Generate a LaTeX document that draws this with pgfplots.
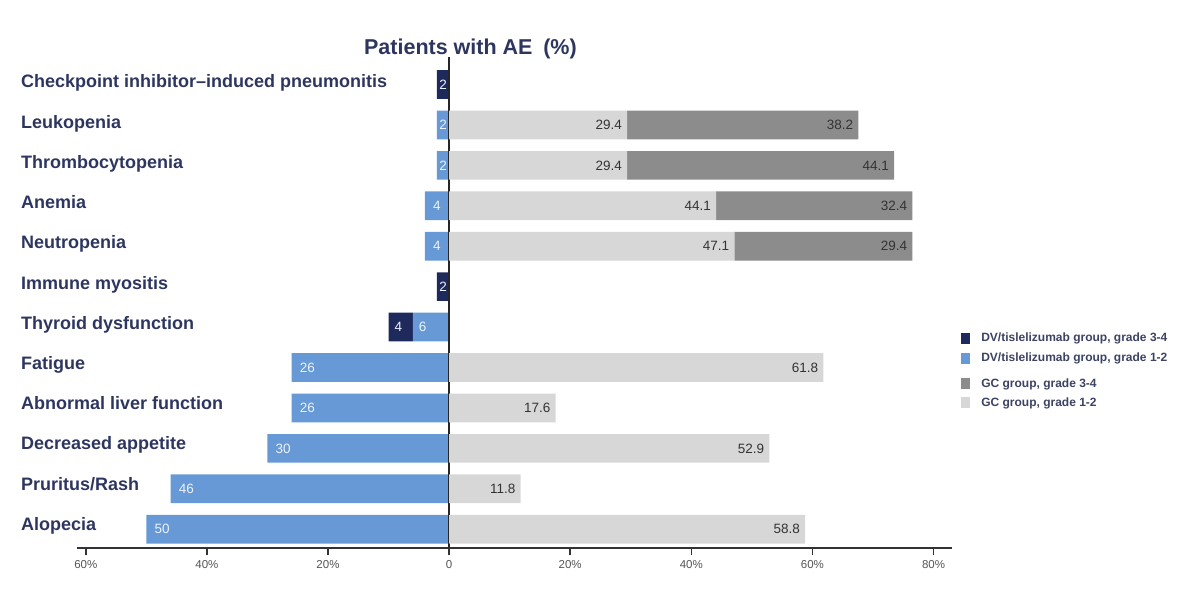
\documentclass[border=0pt]{standalone}
\usepackage{fontspec}
\setmainfont{Liberation Sans}
\usepackage{pgfplots}
\pgfplotsset{compat=1.18}
\usepackage{pgfplotstable}

\definecolor{navybar}{HTML}{1F2A5C}
\definecolor{bluebar}{HTML}{6699D6}
\definecolor{dgrey}{HTML}{8C8C8C}
\definecolor{lgrey}{HTML}{D7D7D7}
\definecolor{txtnavy}{HTML}{2E3660}
\definecolor{valdark}{HTML}{333333}
\definecolor{valwhite}{HTML}{EEF3FA}
\definecolor{ticktxt}{HTML}{555555}
\definecolor{legtxt}{HTML}{3C4262}

% DV/tislelizumab group, grade 1-2 (left, negative)
\pgfplotstableread{
y v lab
11 0 {}
10 -2 2
9 -2 2
8 -4 4
7 -4 4
6 0 {}
5 -6 6
4 -26 26
3 -26 26
2 -30 30
1 -46 46
0 -50 50
}\dvlow
% DV/tislelizumab group, grade 3-4
\pgfplotstableread{
y v lab
11 -2 2
10 0 {}
9 0 {}
8 0 {}
7 0 {}
6 -2 2
5 -4 4
4 0 {}
3 0 {}
2 0 {}
1 0 {}
0 0 {}
}\dvhigh
% GC group, grade 1-2
\pgfplotstableread{
y v lab
11 0 {}
10 29.4 29.4
9 29.4 29.4
8 44.1 44.1
7 47.1 47.1
6 0 {}
5 0 {}
4 61.8 61.8
3 17.6 17.6
2 52.9 52.9
1 11.8 11.8
0 58.8 58.8
}\gclow
% GC group, grade 3-4
\pgfplotstableread{
y v lab
11 0 {}
10 38.2 38.2
9 44.1 44.1
8 32.4 32.4
7 29.4 29.4
6 0 {}
5 0 {}
4 0 {}
3 0 {}
2 0 {}
1 0 {}
0 0 {}
}\gchigh

\pgfplotsset{
  common/.style={
    width=875pt, height=491.6pt, scale only axis,
    xmin=-61.5, xmax=83, ymin=-0.472, ymax=11.688,
    enlargelimits=false, clip=false,
    xbar stacked, bar width=0.71,
    point meta=explicit symbolic,
    legend cell align=left,
    legend style={draw=none, fill=none, inner sep=0pt, column sep=10pt, row sep=5pt,
      font=\fontsize{12}{14}\selectfont\bfseries, text=legtxt,
      nodes={inner sep=2pt, text height=9pt, text depth=2pt}},
  },
  dvlabels/.style={
    nodes near coords,
    visualization depends on={rawy \as \myy},
    visualization depends on={rawx \as \myx},
    nodes near coords style={font=\fontsize{13.5}{15}\selectfont, text=valwhite, anchor=west, inner sep=0pt,
      xshift={\myx*3.0277+ifthenelse(\myy>8.5,2.3,ifthenelse(\myy>6.5,8,ifthenelse(\myy>5.5,2.3,ifthenelse(\myy>4.5,5.8,8))))}}
  },
  gclabels/.style={
    nodes near coords,
    visualization depends on={rawx \as \myx},
    nodes near coords style={font=\fontsize{13.5}{15}\selectfont, text=valdark, anchor=east, inner sep=0pt,
      xshift={\myx*3.0277-5}}
  },
}

\begin{document}
\begin{tikzpicture}
\useasboundingbox (-76.7pt,-44.7pt) rectangle (1123.3pt,548.3pt);
% ---------- DV / tislelizumab (left) ----------
\begin{axis}[common,
  axis x line=bottom, axis y line=left,
  axis line style={-},
  x axis line style={line width=1.6pt, color=black!80},
  y axis line style={draw=none},
  xtick={-60,-40,-20,0,20,40,60,80},
  xticklabels={60\%,40\%,20\%,0,20\%,40\%,60\%,80\%},
  tick align=outside, major tick length=7pt,
  xtick style={line width=1.6pt, color=black!80},
  ytick={0.129,1.124,2.119,3.114,4.109,5.104,6.099,7.094,8.089,9.084,10.079,11.074},
  ytick style={draw=none},
  yticklabels={Alopecia, Pruritus/Rash, Decreased appetite, Abnormal liver function, Fatigue, Thyroid dysfunction, Immune myositis, Neutropenia, Anemia, Thrombocytopenia, Leukopenia, Checkpoint inhibitor–induced pneumonitis},
  yticklabel style={font=\fontsize{18}{20}\selectfont\bfseries, text=txtnavy, anchor=base west, xshift=-48.7pt, yshift=-6.4pt, inner sep=0pt},
  xticklabel style={font=\fontsize{11.5}{12}\selectfont, text=ticktxt, yshift=-2pt},
  title={Patients with AE\hspace{0.5em}(\%)},
  title style={at={(0.45,1)}, anchor=base, yshift=-3.7pt, inner sep=0pt, font=\fontsize{21.5}{24}\selectfont\bfseries, text=txtnavy},
  legend style={at={(1.0103,0.444)}, anchor=north west},
]
\addplot+[fill=bluebar, draw=none, forget plot, dvlabels] table[x=v, y=y, meta=lab] {\dvlow};
\addplot+[fill=navybar, draw=none, forget plot, dvlabels] table[x=v, y=y, meta=lab] {\dvhigh};
\addlegendimage{legend image code/.code={\fill[navybar] (0pt,-5pt) rectangle (8pt,5pt);}}
\addlegendentry{DV/tislelizumab group, grade 3-4}
\addlegendimage{legend image code/.code={\fill[bluebar] (0pt,-5pt) rectangle (8pt,5pt);}}
\addlegendentry{DV/tislelizumab group, grade 1-2}
\end{axis}
% ---------- GC group (right) ----------
\begin{axis}[common,
  hide axis,
  legend style={at={(1.0103,0.3505)}, anchor=north west, row sep=4pt},
]
\addplot+[fill=lgrey, draw=none, forget plot, gclabels] table[x=v, y=y, meta=lab] {\gclow};
\addplot+[fill=dgrey, draw=none, forget plot, gclabels] table[x=v, y=y, meta=lab] {\gchigh};
\draw[line width=1.6pt, color=black!85] (axis cs:0,-0.472) -- (axis cs:0,11.688);
\addlegendimage{legend image code/.code={\fill[dgrey] (0pt,-5pt) rectangle (8pt,5pt);}}
\addlegendentry{GC group, grade 3-4}
\addlegendimage{legend image code/.code={\fill[lgrey] (0pt,-5pt) rectangle (8pt,5pt);}}
\addlegendentry{GC group, grade 1-2}
\end{axis}
\end{tikzpicture}
\end{document}
